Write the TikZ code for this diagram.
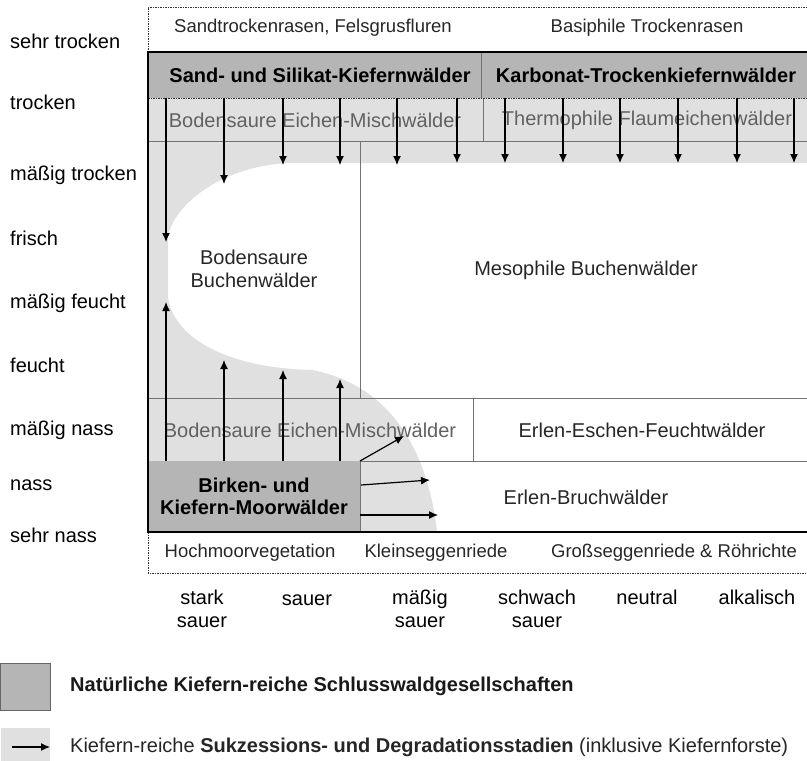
\documentclass[tikz,border=0pt]{standalone}
\usepackage{fontspec}
\setmainfont{Liberation Sans}
\usetikzlibrary{arrows.meta}

\definecolor{kiefergrau}{gray}{0.71}
\definecolor{sukzgrau}{gray}{0.88}
\definecolor{rahmengrau}{gray}{0.45}

\begin{document}
\begin{tikzpicture}[x=1pt, y=-1pt,
    every node/.style={font=\fontsize{20}{23}\selectfont, inner sep=0pt, align=center},
    achse/.style={anchor=west},
    feld/.style={text=black!85},
    rand/.style={text=black!85, font=\fontsize{18.5}{21}\selectfont},
    blass/.style={text=black!62},
    fett/.style={font=\fontsize{20}{22}\selectfont\bfseries},
    gitter/.style={draw=rahmengrau, line width=0.8pt},
    rahmen/.style={draw=black, line width=2.2pt},
    strich/.style={draw=black!80, dashed, dash pattern=on 1.5pt off 1pt, line width=0.7pt},
    pfeil/.style={-{Latex[length=9pt, width=8pt]}, line width=1.2pt}]

  \useasboundingbox (0,0) rectangle (807,761);

  % --- Sukzessionsbereich (hellgrau) ---
  \fill[sukzgrau] (148,98) -- (807,98) -- (807,163) -- (290,163)
    .. controls (230,165) and (178,198) .. (168,235) -- (168,298)
    .. controls (175,340) and (230,368) .. (312,370)
    .. controls (390,385) and (428,450) .. (437,532) -- (148,532) -- cycle;

  % --- Kiefernwaelder (dunkelgrau) ---
  \fill[kiefergrau] (148,52) rectangle (807,98);
  \fill[kiefergrau] (148,461) rectangle (360,532);

  % --- Gitterlinien ---
  \draw[gitter] (481,52) -- (481,98);
  \draw[gitter] (483,98) -- (483,141);
  \draw[gitter] (148,141) -- (807,141);
  \draw[gitter] (360,141) -- (360,398);
  \draw[gitter] (148,398) -- (807,398);
  \draw[gitter] (473,398) -- (473,461);
  \draw[gitter] (360,461) -- (807,461);
  \draw[gitter] (360,461) -- (360,532);
  \draw[strich] (148,98) -- (807,98);

  % --- gestrichelte Randzeilen ---
  \draw[strich] (807,7) -- (148,7) -- (148,52);
  \draw[strich] (148,532) -- (148,573) -- (807,573);

  % --- Rahmen ---
  \draw[rahmen] (807,52) -- (148,52) -- (148,532) -- (807,532);

  % --- Achse Feuchte ---
  \node[achse] (st) at (10,41)  {sehr trocken};
  \node[achse] (tr) at (10,102) {trocken};
  \node[achse] (mt) at (10,175) {mäßig trocken};
  \node[achse] (fr) at (10,238) {frisch};
  \node[achse] (mf) at (10,303) {mäßig feucht};
  \node[achse] (fe) at (10,365) {feucht};
  \node[achse] (mn) at (10,430) {mäßig nass};
  \node[achse] (na) at (10,485) {nass};
  \node[achse] (sn) at (10,535) {sehr nass};

  % --- Achse Basengehalt ---
  \node (ss) at (202,609) {stark\\sauer};
  \node (sa) at (307,600) {sauer};
  \node (ms) at (420,609) {mäßig\\sauer};
  \node (ws) at (537,609) {schwach\\sauer};
  \node (ne) at (647,597) {neutral};
  \node (al) at (757,597) {alkalisch};

  % --- Vegetationseinheiten ---
  \node[rand] (sand) at (313,28) {Sandtrockenrasen, Felsgrusfluren};
  \node[rand] (basi) at (647,28) {Basiphile Trockenrasen};
  \node[fett] (silk) at (320,75) {Sand- und Silikat-Kiefernwälder};
  \node[fett] (karb) at (646,75) {Karbonat-Trockenkiefernwälder};
  \node[blass] (eio) at (315,120) {Bodensaure Eichen-Mischwälder};
  \node[blass] (flau) at (647,120) {Thermophile Flaumeichenwälder};
  \node[feld] (bobu) at (254,269) {Bodensaure\\Buchenwälder};
  \node[feld] (mebu) at (586,270) {Mesophile Buchenwälder};
  \node[blass] (eiu) at (310,430) {Bodensaure Eichen-Mischwälder};
  \node[feld] (ereh) at (642,430) {Erlen-Eschen-Feuchtwälder};
  \node[fett] (birk) at (254,496) {Birken- und\\Kiefern-Moorwälder};
  \node[feld] (erbr) at (586,497) {Erlen-Bruchwälder};
  \node[rand] (hoch) at (250,553) {Hochmoorvegetation};
  \node[rand] (klei) at (436,553) {Kleinseggenriede};
  \node[rand] (gros) at (674,553) {Großseggenriede \& Röhrichte};

  % --- Pfeile von oben ---
  \foreach \x/\y [count=\i] in {166/242, 224/184, 283/165, 340/165, 397/165,
      457/163, 505/163, 563/163, 620/163, 678/163, 737/163, 794/163} {
    \coordinate (ob\i) at (\x,98);
    \coordinate (oe\i) at (\x,\y);
    \draw[pfeil] (ob\i) -- (oe\i);
  }

  % --- Pfeile von unten ---
  \foreach \x/\y [count=\i] in {166/302, 224/360, 283/370, 340/379} {
    \coordinate (ub\i) at (\x,461);
    \coordinate (ue\i) at (\x,\y);
    \draw[pfeil] (ub\i) -- (ue\i);
  }

  % --- Pfeile aus dem Moor ---
  \coordinate (m1) at (360,461);
  \coordinate (m1e) at (404,436);
  \coordinate (m2) at (361,485);
  \coordinate (m2e) at (430,480);
  \coordinate (m3) at (360,515);
  \coordinate (m3e) at (438,515);
  \draw[pfeil] (m1) -- (m1e);
  \draw[pfeil] (m2) -- (m2e);
  \draw[pfeil] (m3) -- (m3e);

  % --- Legende ---
  \fill[kiefergrau, draw=black!60, line width=0.6pt] (0,663) rectangle (50,710);
  \node[anchor=west, fett, text=black!90] (leg1) at (70,686)
    {Natürliche Kiefern-reiche Schlusswaldgesellschaften};
  \fill[sukzgrau] (1,728) rectangle (50,761);
  \coordinate (lp1) at (12,747);
  \coordinate (lp2) at (50,747);
  \draw[pfeil] (lp1) -- (lp2);
  \node[anchor=west, feld] (leg2) at (70,747)
    {Kiefern-reiche \textbf{Sukzessions- und Degradationsstadien} (inklusive Kiefernforste)};

\end{tikzpicture}
\end{document}
